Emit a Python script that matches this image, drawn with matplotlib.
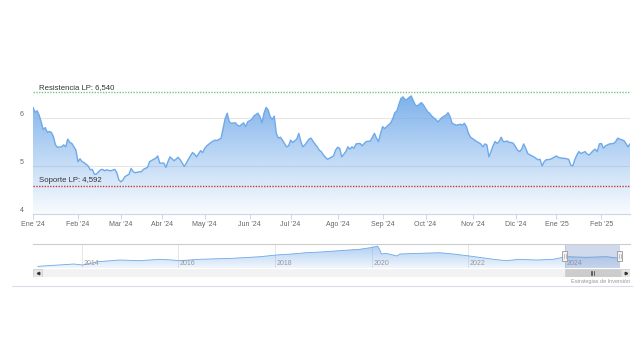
import numpy as np
import pandas as pd
import matplotlib
matplotlib.use('Agg')
import matplotlib.pyplot as plt
import matplotlib.dates as mdates
from matplotlib.colors import to_rgb
from matplotlib.lines import Line2D
from matplotlib.patches import Polygon, Rectangle
from matplotlib.transforms import ScaledTranslation, blended_transform_factory

plt.rcParams['font.family'] = ['Liberation Sans', 'DejaVu Sans']

# calendario de sesiones (eje ordinal, como Highstock)
festivos = ['2024-01-01', '2024-03-29', '2024-04-01', '2024-05-01',
            '2024-12-25', '2024-12-26', '2025-01-01']
sesiones = pd.bdate_range('2024-01-01', '2025-02-21', freq='C', holidays=festivos)

# cierres: numero de sesion desde el 2 ene 2024 y precio
sesion = [0, 1, 2, 3, 4, 5, 6, 7, 8, 9, 10, 11, 12, 14, 15, 16, 17, 18, 19, 20,
          21, 22, 23, 24, 25, 27, 28, 29, 30, 31, 33, 34, 35, 36, 38, 40, 41, 42, 43, 44,
          45, 47, 48, 49, 50, 52, 53, 54, 56, 57, 59, 60, 61, 62, 64, 65, 66, 67, 69, 71,
          72, 74, 75, 76, 78, 79, 80, 82, 83, 84, 85, 87, 89, 90, 92, 93, 94, 95, 96, 97,
          99, 100, 101, 103, 104, 105, 107, 108, 110, 111, 112, 113, 114, 115, 116, 117, 118, 119, 120, 121,
          122, 123, 124, 125, 126, 127, 129, 130, 131, 132, 133, 135, 136, 137, 139, 140, 141, 142, 144, 145,
          147, 148, 149, 150, 151, 153, 154, 155, 156, 157, 158, 160, 161, 162, 163, 165, 166, 167, 168, 169,
          170, 171, 172, 173, 175, 176, 177, 178, 179, 180, 181, 182, 183, 184, 185, 186, 187, 188, 189, 190,
          191, 192, 193, 194, 195, 197, 198, 199, 200, 202, 203, 204, 205, 207, 209, 210, 211, 212, 213, 214,
          216, 217, 219, 220, 221, 222, 223, 224, 225, 226, 227, 228, 229, 230, 231, 232, 233, 234, 235, 237,
          238, 239, 240, 241, 242, 244, 245, 246, 247, 248, 249, 250, 251, 253, 254, 256, 257, 259, 260, 262,
          263, 264, 265, 266, 267, 268, 270, 271, 272, 274, 275, 276, 277, 278, 279, 280, 281, 282, 284, 285,
          286, 287, 289, 290, 291, 292]
cierre = [6.22, 6.12, 6.15, 6.06, 5.92, 5.76, 5.80, 5.70, 5.72, 5.70, 5.61, 5.44, 5.39, 5.40, 5.44, 5.40, 5.56, 5.49, 5.47, 5.40,
          5.33, 5.09, 5.15, 5.09, 5.07, 5.00, 4.92, 4.93, 4.83, 4.83, 4.92, 4.93, 4.90, 4.92, 4.90, 4.93, 4.86, 4.71, 4.67, 4.71,
          4.78, 4.83, 4.95, 4.88, 4.86, 4.88, 4.88, 4.93, 4.97, 5.09, 5.14, 5.16, 5.21, 5.06, 5.06, 4.97, 5.09, 5.19, 5.11, 5.18,
          5.13, 4.99, 5.06, 5.14, 5.28, 5.25, 5.19, 5.32, 5.28, 5.37, 5.42, 5.49, 5.54, 5.53, 5.58, 5.79, 5.99, 6.10, 5.92, 5.89,
          5.90, 5.85, 5.83, 5.90, 5.82, 5.92, 5.97, 6.04, 6.10, 6.03, 5.90, 6.10, 6.22, 6.17, 6.03, 5.97, 6.04, 5.68, 5.58, 5.60,
          5.54, 5.47, 5.40, 5.42, 5.54, 5.49, 5.56, 5.68, 5.51, 5.40, 5.44, 5.56, 5.58, 5.51, 5.40, 5.33, 5.30, 5.23, 5.14, 5.16,
          5.21, 5.33, 5.39, 5.37, 5.19, 5.30, 5.40, 5.35, 5.40, 5.37, 5.46, 5.47, 5.42, 5.47, 5.51, 5.52, 5.60, 5.68, 5.58, 5.51,
          5.68, 5.82, 5.78, 5.82, 5.90, 5.99, 6.11, 6.15, 6.29, 6.41, 6.44, 6.38, 6.39, 6.43, 6.46, 6.36, 6.27, 6.25, 6.29, 6.32,
          6.27, 6.20, 6.13, 6.10, 6.04, 5.97, 5.92, 5.96, 6.01, 6.06, 6.11, 6.03, 5.89, 5.85, 5.87, 5.85, 5.89, 5.82, 5.68, 5.60,
          5.54, 5.51, 5.46, 5.40, 5.46, 5.44, 5.19, 5.30, 5.42, 5.51, 5.47, 5.51, 5.60, 5.51, 5.51, 5.52, 5.49, 5.49, 5.47, 5.33,
          5.30, 5.35, 5.46, 5.37, 5.26, 5.21, 5.19, 5.16, 5.13, 5.14, 5.00, 5.09, 5.13, 5.14, 5.16, 5.21, 5.18, 5.16, 5.16, 5.14,
          5.02, 5.00, 5.13, 5.23, 5.30, 5.26, 5.30, 5.25, 5.23, 5.32, 5.35, 5.30, 5.46, 5.47, 5.37, 5.42, 5.44, 5.46, 5.47, 5.51,
          5.58, 5.56, 5.53, 5.47, 5.40, 5.46]

resistencia = 6.540
soporte = 4.592

meses = ['Ene', 'Feb', 'Mar', 'Abr', 'May', 'Jun', 'Jul', 'Ago', 'Sep', 'Oct', 'Nov', 'Dic']

# serie completa del navegador
nav_fechas = ['2013-02-01', '2013-03-15', '2013-11-01', '2014-01-05', '2014-05-01', '2014-10-15',
              '2015-03-15', '2015-08-10', '2015-11-15', '2016-01-10', '2016-06-10', '2017-02-15',
              '2017-09-10', '2018-01-10', '2018-05-10', '2018-08-20', '2018-12-10', '2019-05-01',
              '2019-10-01', '2020-01-10', '2020-02-15', '2020-03-01', '2020-03-15', '2020-04-20',
              '2020-07-10', '2020-08-01', '2021-01-01', '2021-05-30', '2021-09-10', '2022-01-10',
              '2022-07-10', '2022-10-15', '2023-01-20', '2023-06-01', '2023-10-05', '2024-01-10',
              '2024-06-10', '2024-11-10', '2025-02-21']
nav_cierre = [1.60, 1.79, 2.74, 2.27, 3.84, 4.65, 4.32, 4.98, 4.65, 4.32, 4.98, 5.46,
              6.22, 7.03, 7.51, 8.12, 8.46, 9.08, 9.74, 10.7, 11.3, 9.74, 7.51, 7.84,
              6.55, 7.51, 7.84, 8.12, 7.51, 6.55, 4.98, 4.32, 4.98, 4.65, 4.98, 6.22,
              5.93, 6.22, 5.46]
nav_anios = [2014, 2016, 2018, 2020, 2022, 2024]

azul = '#6fa9e9'


def area_degradado(ax, x, y, base, top, a_top, a_base, z):
    verts = [(x[0], base)] + list(zip(x, y)) + [(x[-1], base)]
    poly = Polygon(verts, closed=True, facecolor='none', edgecolor='none')
    ax.add_patch(poly)
    grad = np.zeros((256, 1, 4))
    grad[:, 0, :3] = to_rgb(azul)
    grad[:, 0, 3] = np.linspace(a_base, a_top, 256)
    im = ax.imshow(grad, extent=[x[0], x[-1], base, top], aspect='auto',
                   origin='lower', zorder=z, interpolation='bilinear')
    im.set_clip_path(poly)


fig = plt.figure(figsize=(6.4, 3.6), dpi=100)
fig.patch.set_facecolor('white')

# ---- grafico principal
ax = fig.add_axes([33 / 640, 1 - 214 / 360, 597 / 640, 132 / 360])
area_degradado(ax, sesion, cierre, 4, max(cierre), 0.9, 0.04, 2)
ax.plot(sesion, cierre, color=azul, lw=1.0, zorder=4)
ax.set_xlim(0, sesion[-1])
ax.set_ylim(4, 6.75)

ax.axhline(resistencia, color='#7cc47c', lw=1.0, ls=(0, (1, 1)), zorder=5)
ax.axhline(soporte, color='#c73a3a', lw=1.0, ls=(0, (1, 1)), zorder=5)
trans = blended_transform_factory(ax.transAxes, ax.transData) + \
    ScaledTranslation(0, 1.5 / 100, fig.dpi_scale_trans)
ax.text(0.01, resistencia, 'Resistencia LP: 6,540', transform=trans,
        fontsize=5.6, color='#333333', va='bottom', ha='left', zorder=6)
ax.text(0.01, soporte, 'Soporte LP: 4,592', transform=trans,
        fontsize=5.6, color='#333333', va='bottom', ha='left', zorder=6)

ax.set_yticks([4, 5, 6])
ax.yaxis.grid(True, color='#e6e6e6', lw=0.8, zorder=0)
ax.set_axisbelow(True)
ax.tick_params(axis='y', length=0, pad=7, labelsize=5, labelcolor='#666666')
for lab in ax.get_yticklabels():
    lab.set_transform(lab.get_transform() + ScaledTranslation(0, 4 / 100, fig.dpi_scale_trans))

pos, etiquetas = [], []
for anio, mes in [(2024, m) for m in range(1, 13)] + [(2025, 1), (2025, 2)]:
    pos.append(int(np.searchsorted(sesiones, pd.Timestamp(anio, mes, 1))))
    etiquetas.append("%s '%02d" % (meses[mes - 1], anio % 100))
ax.set_xticks(pos)
ax.set_xticklabels(etiquetas)
ax.tick_params(axis='x', length=3.6, width=0.7, color='#ccd6eb', labelsize=5,
               labelcolor='#666666', pad=1.5)
for s in ['top', 'left', 'right']:
    ax.spines[s].set_visible(False)
ax.spines['bottom'].set_color('#ccd6eb')
ax.spines['bottom'].set_linewidth(0.8)

# ---- navegador
nav = fig.add_axes([33 / 640, 1 - 268 / 360, 597 / 640, 24 / 360])
nx = mdates.date2num(pd.to_datetime(nav_fechas))
area_degradado(nav, nx, nav_cierre, 0.84, max(nav_cierre), 0.55, 0.1, 2)
nav.plot(nx, nav_cierre, color=azul, lw=0.6, zorder=3)
x_ini = mdates.date2num(pd.Timestamp('2012-12-27'))
x_fin = mdates.date2num(pd.Timestamp('2025-05-08'))
nav.set_xlim(x_ini, x_fin)
nav.set_ylim(0.84, 12.27)
for anio in nav_anios:
    xa = mdates.date2num(pd.Timestamp(anio, 1, 1))
    nav.axvline(xa, color='#e6e6e6', lw=0.7, zorder=1)
    nav.text(xa, 0.2, str(anio), transform=blended_transform_factory(nav.transData, nav.transAxes)
             + ScaledTranslation(1.5 / 100, 0, fig.dpi_scale_trans),
             fontsize=5, color='#999999', va='center', ha='left', zorder=4)
sel0 = mdates.date2num(sesiones[0])
sel1 = mdates.date2num(sesiones[-1])
nav.axvspan(sel0, sel1, color=(102 / 255, 133 / 255, 194 / 255, 0.3), lw=0, zorder=5)
nav.plot([0, 1], [1, 1], transform=nav.transAxes, color='#cccccc', lw=0.8, clip_on=False, zorder=6)
bt = blended_transform_factory(nav.transData, nav.transAxes)
w = 38
for xh in (sel0, sel1):
    nav.add_patch(Rectangle((xh - w / 2, 0.3), w, 0.42, transform=bt, facecolor='#f2f2f2',
                            edgecolor='#999999', lw=0.6, zorder=7, clip_on=False))
    for dx in (-6, 6):
        nav.plot([xh + dx, xh + dx], [0.42, 0.6], transform=bt, color='#999999', lw=0.4,
                 zorder=8, clip_on=False)
nav.axis('off')

# ---- barra de desplazamiento
sb = fig.add_axes([33 / 640, 1 - 277 / 360, 597 / 640, 8 / 360])
sb.set_xlim(x_ini, x_fin)
sb.set_ylim(0, 1)
sb.add_patch(Rectangle((0, 0), 1, 1, transform=sb.transAxes, facecolor='#f2f2f2',
                       edgecolor='#f2f2f2', lw=0.5))
sbt = blended_transform_factory(sb.transData, sb.transAxes)
sb.add_patch(Rectangle((sel0, 0), sel1 - sel0, 1, transform=sbt, facecolor='#cccccc',
                       edgecolor='#cccccc', lw=0.5))
xm = (sel0 + sel1) / 2
for dx in (-14, 0, 14):
    sb.plot([xm + dx, xm + dx], [0.3, 0.7], transform=sbt, color='#333333', lw=0.5)
bw = 9 / 597
for x0, mk in ((0, '<'), (1 - bw, '>')):
    sb.add_patch(Rectangle((x0, 0), bw, 1, transform=sb.transAxes, facecolor='#e6e6e6',
                           edgecolor='#cccccc', lw=0.5))
    sb.plot(x0 + bw / 2, 0.5, marker=mk, ms=1.8, color='#333333', transform=sb.transAxes)
sb.axis('off')

fig.text(630 / 640, 1 - 282 / 360, 'Estrategias de Inversión', ha='right', va='center',
         fontsize=4, color='#999999')
fig.add_artist(Line2D([12 / 640, 632 / 640], [1 - 286 / 360] * 2, color='#dcdcf0', lw=0.8))

fig.savefig('out.png', dpi=100)
plt.close(fig)
